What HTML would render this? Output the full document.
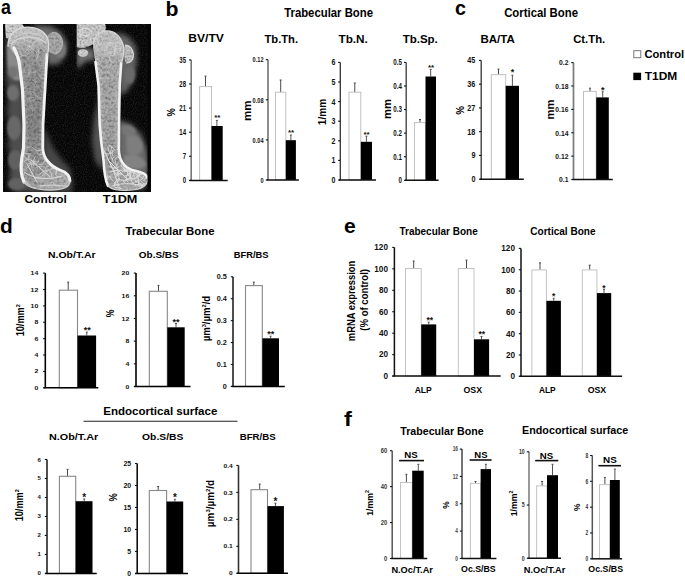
<!DOCTYPE html>
<html><head><meta charset="utf-8"><style>
html,body{margin:0;padding:0;background:#fff;}
body{width:685px;height:577px;overflow:hidden;}
svg{display:block;font-family:"Liberation Sans",sans-serif;}
</style></head><body>
<svg width="685" height="577" viewBox="0 0 685 577">
<rect width="685" height="577" fill="#fff"/>

<defs>
<filter id="b1" x="-20%" y="-20%" width="140%" height="140%"><feGaussianBlur stdDeviation="1.2"/></filter>
<filter id="b2" x="-30%" y="-30%" width="160%" height="160%"><feGaussianBlur stdDeviation="2.4"/></filter>
<filter id="b3" x="-30%" y="-30%" width="160%" height="160%"><feGaussianBlur stdDeviation="3.5"/></filter>
<filter id="b05" x="-20%" y="-20%" width="140%" height="140%"><feGaussianBlur stdDeviation="0.45"/></filter>
<filter id="soft" x="0" y="0" width="100%" height="100%"><feGaussianBlur stdDeviation="0.35"/></filter>
<filter id="noise" x="0" y="0" width="100%" height="100%">
 <feTurbulence type="fractalNoise" baseFrequency="0.5" numOctaves="3" seed="7" result="n"/>
 <feColorMatrix in="n" type="matrix" values="1.9 0 0 0 -0.38  1.9 0 0 0 -0.38  1.9 0 0 0 -0.38  0 0 0 0 1"/>
 <feGaussianBlur stdDeviation="0.3"/>
 <feComposite in2="SourceGraphic" operator="in"/>
</filter>
<filter id="noised" x="0" y="0" width="100%" height="100%">
 <feTurbulence type="fractalNoise" baseFrequency="0.35" numOctaves="2" seed="11" result="n"/>
 <feColorMatrix in="n" type="matrix" values="2.5 0 0 0 -0.75  2.5 0 0 0 -0.75  2.5 0 0 0 -0.75  0 0 0 0 1"/>
 <feComposite in2="SourceGraphic" operator="in"/>
</filter>
<filter id="bgn" x="0" y="0" width="100%" height="100%">
 <feTurbulence type="fractalNoise" baseFrequency="0.9" numOctaves="1" seed="3" result="n"/>
 <feColorMatrix in="n" type="matrix" values="0 0 0 0 1  0 0 0 0 1  0 0 0 0 1  0.3 0 0 0 -0.13"/>
</filter>
<linearGradient id="gc" x1="0" y1="0" x2="0" y2="1">
 <stop offset="0" stop-color="#929292"/><stop offset="0.15" stop-color="#828282"/><stop offset="0.35" stop-color="#6a6a6a"/>
 <stop offset="0.6" stop-color="#606060"/><stop offset="0.8" stop-color="#707070"/><stop offset="1" stop-color="#808080"/>
</linearGradient>
<linearGradient id="gt" x1="0" y1="0" x2="0" y2="1">
 <stop offset="0" stop-color="#9c9c9c"/><stop offset="0.2" stop-color="#959595"/><stop offset="0.45" stop-color="#8e8e8e"/>
 <stop offset="0.68" stop-color="#8a8a8a"/><stop offset="0.8" stop-color="#6e6e6e"/><stop offset="1" stop-color="#7a7a7a"/>
</linearGradient>
<clipPath id="xclip"><rect x="3" y="24" width="148" height="168"/></clipPath>
<clipPath id="lclip"><rect x="3" y="24" width="73.5" height="168"/></clipPath>
<clipPath id="rclip"><rect x="76.5" y="24" width="74.5" height="168"/></clipPath>
<clipPath id="cbone"><path d="M8,46 C8,36 14,29 24,27.5 C34,26 44,30 47.5,38 C49.5,44 48.5,50 47.5,55 L45.5,90 L43.5,125 L43.3,148 C43.5,158 50,166 60,170 C66,172 70,175 70,181 C70,187 62,190 50,190 C38,190 28,188 24,182 C21,176 20.5,166 22,157 L23.5,148 L24,125 L22.5,90 L19.5,65 C17,56 12,52 8,46 Z"/></clipPath>
<clipPath id="tbone"><path d="M93,44 C94,37 99,32 106,31 C114,30 121,36 123.5,46 C124.5,52 123,58 121.5,63 L120,85 L119.3,125 L119.2,150 C119.5,160 124,167 132,170 C140,172 146,173 147.5,178 C148.5,185 142,189 133,190 C122,191 112,190 108,186 C105,180 104,170 103.5,160 L101,140 L99.7,125 L98.5,85 L96,66 C95,58 93,50 93,44 Z"/></clipPath>
</defs>
<g clip-path="url(#xclip)">
<rect x="3" y="24" width="148" height="168" fill="#050505"/>
<g filter="url(#soft)">
<rect x="3" y="24" width="148" height="168" filter="url(#bgn)"/>
<g clip-path="url(#lclip)">
<!-- control soft tissue -->
<g filter="url(#b2)">
 <path d="M6,36 L20,34 L22,70 L24,110 L25,150 L24,186 L10,190 L9,176 L11,160 L8,145 L10,128 L7,110 L9,95 L6,80 Z" fill="#4e4e4e"/>
 <path d="M16,150 L26,150 L30,175 L40,186 L70,186 L73,192 L14,192 Z" fill="#505050"/>
 <path d="M32,25 L50,26 L61,32 L67,43 L66,55 L59,64 L48,65 L44,40 Z" fill="#6a6a6a"/>
 <path d="M44,126 L52,146 L62,160 L70,168 L73,186 L60,191 L48,182 L43,160 Z" fill="#464646"/>
</g>
<g filter="url(#b1)">
 <path d="M7,44 C12,50 17,56 19,62 L20,80 C15,82 9,78 8,70 C7,62 7,52 7,44 Z" fill="#8a8a8a"/>
 <ellipse cx="13" cy="72" rx="5.5" ry="6" fill="#747474"/>
 <ellipse cx="13" cy="93" rx="6" ry="8" fill="#6e6e6e"/>
 <ellipse cx="14" cy="128" rx="7" ry="12" fill="#686868"/>
 <ellipse cx="15" cy="160" rx="7" ry="10" fill="#606060"/>
 <ellipse cx="17" cy="184" rx="9" ry="6" fill="#626262"/>
 <ellipse cx="60" cy="50" rx="6" ry="8" fill="#767676"/>
</g>
<path d="M5,24 L22,24 L25,28 L21,35 L12,39 L6,38 Z" fill="#c2c2c2" filter="url(#b05)"/>
<path d="M5,24 L22,24 L25,28 L21,35 L12,39 L6,38 Z" filter="url(#noise)" opacity="0.4"/>
<ellipse cx="54" cy="43" rx="8.5" ry="11" fill="#8e8e8e" filter="url(#b05)"/>
<ellipse cx="54" cy="43" rx="8.5" ry="11" filter="url(#noise)" opacity="0.3"/>
<path d="M52,32.5 C58,32 62.5,37 62.5,43 C62.5,49 59,53.5 54,54" fill="none" stroke="#b4b4b4" stroke-width="1.1" filter="url(#b05)"/>
<!-- control bone -->
<g clip-path="url(#cbone)">
 <rect x="5" y="24" width="70" height="168" fill="url(#gc)"/>
 <rect x="5" y="24" width="70" height="168" filter="url(#noise)" opacity="0.22"/>
 <rect x="5" y="24" width="70" height="168" filter="url(#noised)" opacity="0.14"/>
 <path d="M8,46 C8,36 14,29 24,27.5 C34,26 44,30 47.5,38 C49.5,44 48.5,50 47.5,55 L45.5,90 L43.5,125 L43.3,148 C43.5,158 50,166 60,170 C66,172 70,175 70,181 C70,187 62,190 50,190 C38,190 28,188 24,182 C21,176 20.5,166 22,157 L23.5,148 L24,125 L22.5,90 L19.5,65 C17,56 12,52 8,46 Z" fill="none" stroke="#fff" stroke-width="8" opacity="0.14" filter="url(#b1)"/>
 <ellipse cx="28" cy="38" rx="20" ry="12" fill="#fff" opacity="0.22" filter="url(#b2)"/>
 <ellipse cx="52" cy="178" rx="18" ry="9" fill="#fff" opacity="0.18" filter="url(#b2)"/>
 <g filter="url(#b05)" opacity="0.75"><path d="M27.6,183.9 L23.9,180.5 L21.1,178.3 L17.2,178.4 M64.8,165.6 L63.5,162.8 L64.8,158.6 M26.0,162.7 L31.6,164.1 L34.5,163.9 L36.5,163.4 L38.9,160.5 M45.3,159.3 L42.5,164.4 L38.8,164.6 M65.9,186.9 L64.6,192.2 L66.7,194.8 L67.3,199.6 L64.4,201.8 M61.7,176.8 L57.7,177.2 L55.6,174.3 L56.6,170.5 L59.2,168.0 M53.6,164.7 L55.9,164.3 L58.3,164.8 L62.7,161.9 L65.8,158.1 M44.0,162.3 L46.7,160.0 L46.9,156.0 L51.6,154.1 L56.9,152.7 M32.4,170.6 L36.9,167.1 L41.1,166.0 L44.5,166.9 L47.0,172.2 M67.0,170.5 L72.8,171.1 L76.2,171.3 L81.9,172.4 L87.1,172.3 M41.3,150.1 L37.0,150.7 L33.2,148.3 L31.1,146.5 L27.0,147.7 M62.7,187.2 L66.4,183.2 L69.4,179.2 L69.7,176.1 L71.7,174.2 M35.2,156.7 L33.4,160.9 L33.8,165.7 M45.3,154.6 L44.8,157.3 L48.6,161.4 L50.4,163.5 M50.7,182.7 L52.8,182.4 L54.9,185.6 M45.8,167.1 L49.6,165.7 L52.1,161.8 L53.4,157.7 L52.9,153.3 M23.9,161.9 L28.2,158.6 L30.7,153.4 M57.4,166.6 L56.6,172.0 L55.5,174.6 M65.1,168.4 L66.7,166.9 L66.8,164.5 L68.2,159.1 L69.9,155.5 M67.0,165.6 L61.9,167.7 L60.1,166.6 M30.8,163.1 L33.4,161.8 L38.7,161.6 M66.7,163.8 L70.7,160.7 L72.6,159.4 L72.3,156.9 L69.0,154.4 M34.1,163.3 L30.9,164.2 L27.0,168.1 L22.0,171.0 M64.5,155.4 L60.9,155.8 L55.4,158.1 M28.2,155.0 L28.8,158.5 L28.8,161.4 L31.4,163.0 L31.7,167.2 M66.3,168.3 L64.7,169.5 L62.3,170.0 M26.6,185.4 L29.2,188.9 L33.0,189.4 M54.4,156.4 L57.9,156.4 L60.2,161.5 L62.6,163.3 M44.4,154.0 L39.3,154.9 L36.0,151.3 M36.7,165.7 L31.2,163.6 L31.0,161.2 M31.5,174.7 L34.4,177.4 L36.9,178.5 L39.5,177.7 L43.8,174.6 M25.4,180.1 L28.9,184.7 L31.5,186.6 L34.7,187.4 L37.3,192.3 M35.8,163.4 L34.6,161.4 L29.7,159.6 L26.6,159.3 L23.9,155.1 M22.1,150.4 L22.0,144.9 L19.0,142.3 L18.7,140.0 M67.5,156.9 L70.2,155.0 L70.1,150.9 M66.0,161.7 L70.2,159.1 L75.4,159.7 M51.6,176.9 L51.4,174.1 L49.2,170.5 L43.7,170.9 L39.7,174.1 M54.4,167.9 L49.3,169.7 L46.1,171.2 L44.1,173.5 M22.2,175.9 L22.7,180.6 L22.3,185.0 L26.5,189.2 L30.6,190.2 M29.4,153.6 L25.4,153.6 L21.9,152.4" fill="none" stroke="#dcdcdc" stroke-width="0.8" stroke-linecap="round" stroke-linejoin="round"/><path d="M45.4,53.6 L47.9,53.6 L51.2,56.8 M19.3,33.7 L22.0,31.9 L24.8,28.7 L29.4,30.4 L32.4,31.8 M19.9,29.0 L21.6,33.4 L24.0,37.4 L26.5,37.9 M18.5,32.8 L20.7,37.3 L20.8,39.8 L17.4,42.5 L12.7,43.0 M38.2,49.3 L38.9,53.5 L37.7,56.7 L36.3,59.9 M44.2,41.5 L46.9,39.4 L49.8,40.3 L52.2,43.1 M26.9,45.8 L31.1,47.7 L34.4,50.5 L36.7,52.3 L37.5,56.7 M30.8,41.7 L28.3,41.0 L23.7,39.5 L21.9,38.3 M40.4,47.6 L42.3,48.9 L43.8,50.5 M31.9,46.4 L32.4,43.7 L36.3,40.9 L35.8,36.2 L36.9,34.3 M23.3,34.7 L24.0,36.7 L23.6,38.7 M19.5,50.0 L20.5,51.7 L21.8,55.9 M19.2,54.2 L23.2,55.6 L26.6,55.0 L29.5,52.8 L31.5,52.0 M19.8,38.9 L17.7,37.1 L16.3,34.5 M13.8,40.1 L17.0,37.2 L19.1,35.1 M42.4,37.2 L40.6,40.9 L36.6,41.0 L34.6,42.4 M16.3,40.2 L12.3,43.2 L11.4,46.4 L12.6,50.0 L12.6,54.4 M36.3,34.9 L33.8,34.6 L31.4,35.0 L29.1,35.3 L28.2,37.1 M37.8,30.8 L40.7,31.0 L43.1,32.1 L44.0,36.9 L42.9,40.0 M28.9,43.7 L29.7,47.3 L26.9,50.2 L25.5,51.7 M45.5,31.2 L42.6,30.2 L39.9,33.2 L40.5,36.1 L38.2,39.4 M10.6,40.2 L6.9,43.0 L5.0,43.8 L4.8,46.7 M36.8,33.9 L33.6,33.6 L29.4,33.5 M24.6,31.3 L26.1,33.9 L28.0,35.7 M13.9,44.7 L10.6,43.5 L7.2,43.5 M39.6,35.3 L36.3,32.6 L33.3,30.9 L31.4,28.4 M15.8,44.1 L12.3,40.9 L9.6,37.3 L6.6,37.4 L5.6,35.2 M25.4,29.8 L24.9,33.7 L26.8,35.8 L30.8,36.5 L33.5,38.4 M29.4,31.0 L26.7,33.3 L24.0,33.9 L21.5,31.6 M36.0,38.9 L39.0,40.6 L41.2,44.4 L44.2,47.3 L46.1,48.4" fill="none" stroke="#d0d0d0" stroke-width="0.8" stroke-linecap="round" stroke-linejoin="round"/><path d="M27.5,84.9 L26.0,86.8 L23.6,88.4 L21.9,89.9 L21.5,92.5 M34.4,85.2 L34.0,86.9 L32.0,87.4 M22.3,97.7 L25.0,97.5 L26.5,98.7 L28.3,101.0 L30.4,102.6 M31.8,95.0 L31.5,93.4 L29.9,92.5 M44.2,79.0 L41.9,77.4 L40.3,75.8 L38.8,74.8 M29.7,105.4 L30.3,107.8 L32.7,109.3 L32.4,112.1 M35.1,94.3 L36.3,95.4 L38.1,97.1 L39.7,98.3 L42.4,97.3 M22.5,78.5 L22.6,80.9 L24.9,82.0 M29.6,103.4 L30.7,102.4 L30.1,100.8 L29.3,98.0 L30.8,96.7 M28.1,92.9 L30.5,91.3 L32.4,92.1 L34.6,92.7 M36.8,87.8 L36.6,85.0 L35.2,83.0 L35.0,80.2 L34.5,78.3 M29.0,73.6 L28.6,71.6 L28.6,69.9 L29.2,68.0 L29.2,65.2 M36.0,70.3 L34.9,72.6 L33.0,72.6 L30.7,72.9 L28.9,74.0 M29.2,75.3 L28.7,73.7 L30.1,71.1 L31.4,70.0 M33.5,91.0 L34.8,92.7 L35.0,94.3 L36.1,96.0 M41.2,79.1 L40.3,76.7 L38.3,75.4 M28.2,98.3 L30.9,97.7 L33.7,97.5 M29.8,100.5 L31.5,100.8 L34.0,99.9 L35.3,98.4 L36.3,96.5 M31.4,105.6 L33.1,107.8 L33.8,110.0 M34.9,109.2 L35.9,106.7 L37.5,105.0 M28.6,73.8 L26.7,76.0 L27.1,77.8 M22.8,99.2 L21.3,96.7 L20.8,95.3 M39.1,64.5 L40.9,66.0 L43.6,65.0 L44.1,63.4 L46.4,63.1 M40.7,58.4 L40.9,61.1 L43.0,62.8 M43.2,99.3 L44.2,97.2 L44.7,94.6" fill="none" stroke="#bcbcbc" stroke-width="0.7" stroke-linecap="round" stroke-linejoin="round"/></g>
</g>
<g fill="none" stroke="#f2f2f2" stroke-linecap="round" filter="url(#b05)">
 <path d="M14,48 C17,54 19,60 19.5,65 L22.5,90 L24,125 L23.5,148 L22,157 C20.5,166 21,176 24,182" stroke-width="3.2"/>
 <path d="M47,55 L45,90 L43,125 L42.8,148 C43,158 50,166 60,170 C66,172 70,175 70,181" stroke-width="2.8"/>
 <path d="M8,46 C8,36 14,29 24,27.5 C34,26 44,30 47.5,38 C49.5,44 48.5,50 47.5,55" stroke-width="1.4" stroke="#dadada"/>
 <path d="M11,44 C18,36 36,34 46,43" stroke-width="1.3" stroke="#d6d6d6"/>
 <path d="M14,38 C22,32 34,31 42,36" stroke-width="1" stroke="#cfcfcf"/>
 <path d="M27,164 L37,182 M31,160 L50,177 M24,172 C36,180 48,180 62,176 M40,186 C50,184 58,186 66,186" stroke-width="1" stroke="#d8d8d8"/>
 <path d="M24,182 C28,188 38,190 50,190 C62,190 70,187 70,181" stroke-width="1.3" stroke="#cfcfcf"/>
</g>
</g>
<g clip-path="url(#rclip)">
<!-- T1DM soft tissue -->
<g filter="url(#b2)">
 <path d="M76.5,48 L92,48 C95,52 96,56 95,61 C90,59 84,61 80,67 L76.5,68 Z" fill="#6e6e6e"/>
 <path d="M116,32 L128,36 L136,46 L137,62 L134,78 L128,90 L120,96 Z" fill="#646464"/>
 <path d="M118,120 L131,124 L141,134 L147,150 L149,166 L148,182 L142,190 L128,186 L120,170 L118,150 Z" fill="#6a6a6a"/>
 <path d="M99,96 L94,118 L92,140 L95,160 L103,172 L104,140 L101,110 Z" fill="#525252"/>
</g>
<g filter="url(#b1)">
 <path d="M126,136 C132,132 142,137 143,146 C143,155 134,157 127,153 Z" fill="#7e7e7e"/>
 <path d="M124,156 C132,152 144,156 146,165 C142,170 130,170 124,165 Z" fill="#828282"/>
 <path d="M122,126 C128,124 135,126 136,132 C133,137 126,137 122,133 Z" fill="#767676"/>
 <ellipse cx="130" cy="75" rx="5" ry="9" fill="#6a6a6a"/>
</g>
<path d="M76.5,24 L105,24 C107,28 105,33 101,37 C97,42 91,46 85,47.5 C81,48 78,47.5 76.5,47 Z" fill="#bababa" filter="url(#b05)"/>
<path d="M76.5,24 L105,24 C107,28 105,33 101,37 C97,42 91,46 85,47.5 C81,48 78,47.5 76.5,47 Z" filter="url(#noise)" opacity="0.4"/>
<path d="M80,30 C84,27 90,28 92,32 C90,36 84,37 80,34 Z" fill="none" stroke="#e0e0e0" stroke-width="1" filter="url(#b05)"/>
<ellipse cx="83" cy="53" rx="5.2" ry="3.8" fill="#c4c4c4" filter="url(#b05)"/>
<ellipse cx="83" cy="53" rx="5.2" ry="3.8" filter="url(#noise)" opacity="0.3"/>
<path d="M125,45 C130,45 133.5,50 133.5,55 C133.5,60 130,63.5 126,63 C124,59 124,50 125,45 Z" fill="#a8a8a8" filter="url(#b05)"/>
<path d="M125,45 C130,45 133.5,50 133.5,55 C133.5,60 130,63.5 126,63 C124,59 124,50 125,45 Z" filter="url(#noise)" opacity="0.4"/>
<path d="M125,45 C130,45 133.5,50 133.5,55 C133.5,60 130,63.5 126,63" fill="none" stroke="#d8d8d8" stroke-width="1.1" filter="url(#b05)"/>
<!-- T1DM bone -->
<g clip-path="url(#tbone)">
 <rect x="85" y="24" width="66" height="168" fill="url(#gt)"/>
 <rect x="85" y="24" width="66" height="168" filter="url(#noise)" opacity="0.22"/>
 <rect x="85" y="24" width="66" height="168" filter="url(#noised)" opacity="0.14"/>
 <path d="M93,44 C94,37 99,32 106,31 C114,30 121,36 123.5,46 C124.5,52 123,58 121.5,63 L120,85 L119.3,125 L119.2,150 C119.5,160 124,167 132,170 C140,172 146,173 147.5,178 C148.5,185 142,189 133,190 C122,191 112,190 108,186 C105,180 104,170 103.5,160 L101,140 L99.7,125 L98.5,85 L96,66 C95,58 93,50 93,44 Z" fill="none" stroke="#fff" stroke-width="8" opacity="0.14" filter="url(#b1)"/>
 <ellipse cx="108" cy="44" rx="15" ry="13" fill="#fff" opacity="0.22" filter="url(#b2)"/>
 <ellipse cx="126" cy="176" rx="20" ry="12" fill="#fff" opacity="0.14" filter="url(#b2)"/>
 <g filter="url(#b05)" opacity="0.8"><path d="M112.6,150.6 L112.8,152.7 L112.6,155.6 M146.6,148.6 L144.2,149.6 L143.7,152.2 L139.4,153.7 M138.3,182.0 L141.8,185.0 L140.7,189.4 L141.0,194.0 M117.2,163.5 L117.3,165.7 L113.5,168.3 M126.6,159.5 L129.6,159.3 L131.8,160.6 L134.4,161.7 L137.0,162.4 M113.7,181.9 L115.6,183.9 L117.8,186.6 L122.1,189.1 M110.8,164.6 L111.9,166.9 L114.0,170.0 L114.7,172.5 L117.6,176.0 M133.9,158.5 L129.4,160.3 L128.1,161.9 M118.1,149.7 L122.7,151.3 L124.6,149.3 L128.8,150.5 M120.5,188.4 L118.0,187.8 L115.6,187.5 M119.2,189.3 L118.6,192.6 L119.2,197.0 M146.9,171.7 L144.7,173.1 L144.8,175.3 M109.6,176.5 L111.5,179.7 L113.2,180.9 M139.6,159.2 L141.0,162.3 L143.8,164.0 L146.5,162.2 L148.2,157.8 M139.4,168.4 L142.7,167.1 L145.8,167.9 L148.7,167.0 M142.1,160.2 L146.2,162.4 L149.0,165.8 L149.4,169.2 L151.8,170.4 M141.3,186.5 L143.3,183.7 L146.2,183.7 L148.8,183.2 M138.1,182.0 L135.8,181.9 L134.1,177.3 L134.2,175.2 M142.5,151.7 L146.1,154.6 L147.6,157.6 L149.2,160.4 L152.4,163.5 M111.5,153.1 L107.2,154.1 L103.0,152.1 L99.1,149.6 M111.1,176.2 L107.9,177.6 L106.0,178.3 L105.6,182.0 L105.2,186.6 M129.4,152.2 L126.5,151.9 L124.3,152.5 L122.1,150.0 L117.2,149.3 M119.5,180.1 L118.8,177.9 L118.7,173.3 L118.7,170.0 M140.6,180.9 L144.1,184.2 L145.9,185.7 M127.1,162.7 L130.5,163.4 L134.1,162.6 L137.1,165.5 L139.8,164.3 M126.5,167.9 L126.0,164.4 L124.9,161.7 L122.8,160.3 M140.9,146.1 L145.2,148.1 L146.8,151.4 L144.8,154.3 M121.8,173.8 L118.7,173.9 L116.5,173.0 L114.6,174.5 M138.4,154.0 L139.4,149.7 L142.2,146.0 L140.8,142.3 M142.7,160.8 L142.1,162.8 L145.8,166.0 M139.3,182.0 L137.7,178.7 L136.0,175.4 M144.2,180.2 L146.1,177.3 L148.8,177.2 M137.4,175.7 L138.9,172.2 L143.0,171.4 L145.1,169.8 L147.0,166.4 M146.8,186.5 L144.3,185.0 L140.7,183.8 L136.2,184.9 M122.6,171.3 L126.5,171.2 L128.0,169.6 L132.7,171.0 M143.4,173.2 L140.5,175.0 L137.1,175.8 M129.2,149.0 L131.9,145.0 L131.1,140.7 M132.6,170.6 L133.1,167.9 L134.9,166.0 L137.0,166.6 M114.2,185.5 L115.3,181.6 L118.2,178.9 L122.5,180.4 L124.9,183.2 M133.2,178.6 L130.6,178.3 L127.3,179.5 L125.3,181.1 L121.9,180.1 M126.2,159.6 L124.1,162.2 L126.2,166.3 M102.9,189.2 L106.7,189.3 L107.8,186.9 M102.4,187.0 L101.7,182.9 L105.2,179.7 L107.6,175.8 M139.5,172.4 L139.3,175.5 L135.3,177.5 L132.0,180.2 L129.4,179.9 M128.1,182.1 L126.1,179.8 L126.6,175.1 L130.6,172.8 M131.6,177.4 L127.6,174.7 L127.8,172.2 L124.7,170.4 L123.7,166.4 M103.8,176.4 L99.7,176.6 L96.9,180.7 L93.4,181.3 L92.5,185.8 M130.1,174.0 L130.7,175.9 L130.3,178.5 L132.1,182.3 L135.7,185.7 M140.6,174.4 L137.3,178.1 L132.8,179.0 M115.4,177.1 L117.4,174.9 L117.6,171.4 L117.1,166.6 L114.8,162.4 M144.7,187.7 L143.9,190.5 L145.9,192.9 L147.6,196.6 L147.9,200.4 M116.1,188.1 L114.2,186.2 L115.3,182.3 L118.5,181.1 L119.3,178.2 M122.5,190.6 L123.6,192.6 L122.9,195.5 M141.1,172.2 L145.6,171.9 L148.4,168.8 L146.7,164.8 L144.3,163.8 M103.6,160.6 L98.8,161.8 L96.7,165.6 L97.9,167.4 L102.6,168.3 M143.8,176.3 L142.2,179.4 L137.9,180.5 L134.6,182.4 L132.0,183.8 M121.3,164.3 L124.0,162.7 L125.6,160.0 M140.9,188.3 L138.0,185.3 L138.7,182.9 L138.3,177.9 M111.6,147.2 L110.7,151.9 L110.3,154.0 L111.5,158.0 L112.7,160.1 M118.9,166.9 L115.9,168.3 L111.2,167.5 L109.1,165.9 M116.9,172.9 L121.6,174.3 L124.0,175.2 M129.7,173.0 L128.0,170.3 L124.5,169.0 L122.6,167.5 L120.9,165.4 M135.3,170.3 L133.7,174.1 L131.4,178.3 L128.6,178.4 L125.3,179.9 M126.5,162.5 L129.4,159.0 L128.1,155.3 M110.8,153.2 L109.0,152.0 L107.9,147.5 M105.6,188.4 L104.2,186.3 L103.2,183.6 L104.8,181.2 L108.3,178.7 M125.8,179.9 L129.1,179.5 L130.0,176.1 M140.4,184.0 L143.2,187.4 L143.2,189.5 L145.9,192.5 M110.8,153.7 L114.4,150.2 L113.6,148.4 L110.9,146.1 L108.9,145.0 M130.8,176.0 L130.2,174.0 L127.8,173.4 L126.8,168.8 L129.5,166.6 M125.1,175.9 L129.0,175.6 L131.2,171.2 L129.6,167.2 L128.8,164.1 M115.7,162.2 L114.8,158.9 L117.4,156.8 L121.8,159.1 L123.5,160.4 M127.1,189.5 L125.1,193.2 L121.7,193.0 L119.0,194.1 L117.0,196.2 M116.2,155.4 L112.6,158.2 L112.3,160.5 L114.7,164.5 M130.7,154.7 L130.5,156.7 L128.9,157.9 L125.3,158.8" fill="none" stroke="#ececec" stroke-width="0.85" stroke-linecap="round" stroke-linejoin="round"/><path d="M112.3,56.0 L114.5,53.1 L118.8,52.6 L120.4,51.2 L120.5,48.1 M119.9,43.3 L122.2,42.0 L124.5,37.9 M116.7,35.6 L118.6,32.8 L117.1,28.1 M93.2,57.1 L95.5,58.8 L94.8,62.4 M114.0,37.2 L116.2,32.8 L116.6,30.8 L116.6,26.0 L114.9,23.5 M118.3,50.5 L115.5,49.9 L113.6,47.0 L110.6,45.3 L109.5,43.4 M123.2,30.8 L119.2,29.1 L115.5,28.7 L114.5,30.6 M98.6,63.4 L95.5,67.1 L94.5,70.0 M109.3,57.1 L109.9,60.2 L112.1,62.7 L111.0,65.1 L109.6,67.8 M97.6,39.6 L95.6,37.5 L93.4,37.4 M97.6,54.1 L99.6,55.2 L103.1,58.5 M94.0,55.9 L92.5,58.8 L95.1,62.8 L98.5,62.3 M119.0,34.6 L119.8,30.3 L117.6,27.9 M97.6,59.6 L93.9,60.6 L92.2,63.7 L88.1,63.6 M102.8,39.6 L100.9,43.6 L99.6,45.8 M122.1,60.4 L125.7,62.8 L126.0,65.8 L123.6,69.5 M114.5,53.2 L115.3,49.3 L117.7,47.8 L121.1,50.1 M122.7,41.9 L124.8,45.7 L127.0,47.4 M102.0,47.5 L99.0,44.9 L97.8,40.6 L95.1,36.9 M120.0,54.1 L123.5,53.7 L126.3,50.2 L129.7,50.6 M114.4,55.2 L115.2,50.4 L116.1,45.7 M102.4,49.4 L104.4,48.7 L105.8,45.7 L107.7,43.9 M114.3,52.1 L114.7,54.5 L113.0,56.2 L109.8,55.1 M110.0,44.5 L107.0,46.9 L105.8,51.4 L108.3,53.3 L111.5,53.7 M96.6,59.1 L94.3,60.9 L92.9,64.2 M122.5,40.3 L120.6,44.3 L118.4,46.5 M97.4,50.9 L97.2,47.0 L95.4,42.7 M93.0,33.8 L90.4,32.3 L89.8,28.7 L88.3,24.0 L87.1,20.8 M115.0,43.4 L117.1,41.7 L120.2,43.3 M105.9,41.2 L107.3,43.1 L111.2,42.3 L112.9,44.4 M94.2,34.8 L91.9,36.4 L88.0,34.5 L85.2,34.9 M97.8,64.6 L94.3,65.0 L90.9,61.8 L91.2,59.8 L89.2,57.8 M114.9,51.5 L114.3,48.5 L115.7,45.0 M94.1,38.8 L91.2,36.6 L87.5,38.8 M106.3,50.1 L106.7,45.6 L109.4,43.5 L113.5,42.6 L116.0,44.9" fill="none" stroke="#d4d4d4" stroke-width="0.8" stroke-linecap="round" stroke-linejoin="round"/><path d="M115.5,102.0 L114.8,103.6 L113.2,106.1 L111.4,106.9 M98.5,87.0 L97.1,88.8 L97.8,91.1 L97.4,93.6 M112.6,92.5 L114.2,92.7 L115.9,94.8 L117.1,95.9 M102.3,93.6 L101.5,95.2 L100.0,96.5 M118.5,105.9 L117.5,103.3 L116.6,100.6 L116.5,98.7 L116.2,96.7 M100.6,87.5 L98.2,87.0 L96.4,87.4 M108.6,71.2 L109.0,73.0 L111.1,74.3 L113.0,76.0 L114.1,77.7 M109.6,78.0 L107.5,77.9 L105.8,76.6 L106.2,74.8 M119.5,105.2 L117.9,102.9 L118.1,100.7 L118.1,98.1 M107.0,68.9 L106.6,66.3 L107.9,65.5 L109.6,64.5 M115.6,73.4 L114.7,71.8 L112.8,69.7 L111.9,68.0 M108.4,86.5 L110.0,88.4 L111.4,89.9 L114.3,89.9 M111.6,96.3 L111.9,98.5 L110.4,100.9 L110.3,102.4 L110.4,104.0 M98.7,99.8 L101.4,101.0 L103.6,101.9 L103.9,103.6 L104.9,104.7 M115.7,101.0 L114.1,100.9 L112.4,101.3 M111.8,92.3 L112.4,94.8 L114.6,95.3 L115.8,96.4 L117.9,95.5 M111.6,106.6 L110.4,109.2 L108.2,109.6 L105.6,108.9 L103.3,110.6 M118.0,84.8 L118.7,82.7 L120.0,80.3 L120.1,78.3 M105.9,66.5 L103.4,68.0 L101.1,69.8 L101.5,71.4 M116.0,93.7 L114.6,92.3 L111.8,93.2 M114.3,98.8 L115.2,100.1 L115.4,101.8 L115.3,104.0 M108.9,68.4 L108.8,70.2 L107.9,71.7 L105.9,72.7 L103.4,71.7" fill="none" stroke="#bcbcbc" stroke-width="0.7" stroke-linecap="round" stroke-linejoin="round"/></g>
</g>
<g fill="none" stroke="#f2f2f2" stroke-linecap="round" filter="url(#b05)">
 <path d="M95.5,62 L98.5,85 L99.7,125 L101,140 L103.5,160 C104,170 105,180 108,186" stroke-width="2.6"/>
 <path d="M121.2,63 L119.7,85 L119,125 L118.9,150 C119.2,160 124,167 132,170 C140,172 146,173 147.5,178" stroke-width="2.6"/>
 <path d="M93,44 C94,37 99,32 106,31 C114,30 121,36 123.5,46 C124.5,52 123,58 121.5,63" stroke-width="1.3" stroke="#d6d6d6"/>
 <path d="M104,150 L113,170 L119,186 M108,160 L128,180 M110,172 C122,168 132,170 142,178 M112,186 C124,182 134,184 144,186" stroke-width="1" stroke="#e0e0e0"/>
 <path d="M108,186 C112,190 122,191 133,190 C142,189 148.5,185 147.5,178" stroke-width="1.2" stroke="#d0d0d0"/>
</g>
</g>
</g>
<rect x="147.5" y="24" width="3.5" height="168" fill="#060606"/>
</g>

<text transform="translate(1.5,14.4) scale(0.8908,1)" x="-0.59" y="0" font-size="20" font-weight="bold" fill="#000">a</text>
<text transform="translate(166.9,15.5) scale(1.0617,1)" x="-1.32" y="0" font-size="20" font-weight="bold" fill="#000">b</text>
<text transform="translate(455.8,14.8) scale(0.9840,1)" x="-0.78" y="0" font-size="20" font-weight="bold" fill="#000">c</text>
<text transform="translate(0.9,233) scale(1.0419,1)" x="-0.82" y="0" font-size="20" font-weight="bold" fill="#000">d</text>
<text transform="translate(344.7,232.5) scale(1.0561,1)" x="-0.78" y="0" font-size="20" font-weight="bold" fill="#000">e</text>
<text transform="translate(344.4,425.8) scale(1.1797,1)" x="-0.34" y="0" font-size="20" font-weight="bold" fill="#000">f</text>
<text transform="translate(25,202.7) scale(1.0291,1)" x="-0.48" y="0" font-size="11.6" font-weight="bold" fill="#000">Control</text>
<text transform="translate(103,202.5) scale(1.0955,1)" x="-0.13" y="0" font-size="11.6" font-weight="bold" fill="#000">T1DM</text>
<text transform="translate(284.3,16.8) scale(0.9309,1)" x="-0.14" y="0" font-size="12.2" font-weight="bold" fill="#000">Trabecular Bone</text>
<text transform="translate(189.1,42.4) scale(1.0242,1)" x="-0.79" y="0" font-size="11.8" font-weight="bold" fill="#000">BV/TV</text>
<text transform="translate(264.6,42.6) scale(0.9494,1)" x="-0.13" y="0" font-size="11.8" font-weight="bold" fill="#000">Tb.Th.</text>
<text transform="translate(338.6,42.6) scale(0.9983,1)" x="-0.13" y="0" font-size="11.8" font-weight="bold" fill="#000">Tb.N.</text>
<text transform="translate(402.8,42.6) scale(0.9742,1)" x="-0.13" y="0" font-size="11.8" font-weight="bold" fill="#000">Tb.Sp.</text>
<text transform="translate(504.6,16.6) scale(0.9325,1)" x="-0.5" y="0" font-size="12.2" font-weight="bold" fill="#000">Cortical Bone</text>
<text transform="translate(481.2,42.8) scale(0.9757,1)" x="-0.79" y="0" font-size="11.8" font-weight="bold" fill="#000">BA/TA</text>
<text transform="translate(573.6,42.5) scale(0.9618,1)" x="-0.48" y="0" font-size="11.8" font-weight="bold" fill="#000">Ct.Th.</text>
<rect x="633.8" y="50.7" width="7" height="7" fill="#fff" stroke="#777" stroke-width="1"/>
<rect x="633.3" y="72.7" width="7.8" height="7.4" fill="#000"/>
<text transform="translate(644.9,57.8) scale(0.9640,1)" x="-0.48" y="0" font-size="11.6" font-weight="bold" fill="#000">Control</text>
<text transform="translate(644.9,79.8) scale(1.0303,1)" x="-0.13" y="0" font-size="11.6" font-weight="bold" fill="#000">T1DM</text>
<line x1="205.5" y1="86.6" x2="205.5" y2="76.1" stroke="#4a4a4a" stroke-width="1"/>
<line x1="204.5" y1="76.1" x2="206.5" y2="76.1" stroke="#4a4a4a" stroke-width="1"/>
<rect x="199.6" y="86.6" width="11.9" height="93.8" fill="#fff" stroke="#c0c0c0" stroke-width="1"/>
<line x1="216.9" y1="126" x2="216.9" y2="120.4" stroke="#555" stroke-width="1"/>
<line x1="215.9" y1="120.4" x2="217.9" y2="120.4" stroke="#555" stroke-width="1"/>
<rect x="211.5" y="126" width="11.2" height="54.4" fill="#000"/>
<line x1="191.2" y1="59.9" x2="191.2" y2="180.4" stroke="#777" stroke-width="1.6"/>
<line x1="189.4" y1="180.4" x2="227.7" y2="180.4" stroke="#111" stroke-width="1.5"/>
<line x1="189" y1="180.4" x2="191.2" y2="180.4" stroke="#111" stroke-width="1.1"/>
<line x1="189" y1="156.3" x2="191.2" y2="156.3" stroke="#111" stroke-width="1.1"/>
<line x1="189" y1="132.2" x2="191.2" y2="132.2" stroke="#111" stroke-width="1.1"/>
<line x1="189" y1="108.1" x2="191.2" y2="108.1" stroke="#111" stroke-width="1.1"/>
<line x1="189" y1="84" x2="191.2" y2="84" stroke="#111" stroke-width="1.1"/>
<line x1="189" y1="59.9" x2="191.2" y2="59.9" stroke="#111" stroke-width="1.1"/>
<text x="182.64" y="183.3" font-size="8.4" font-weight="bold" textLength="3.36" lengthAdjust="spacingAndGlyphs" fill="#111">0</text>
<text x="182.64" y="159.2" font-size="8.4" font-weight="bold" textLength="3.36" lengthAdjust="spacingAndGlyphs" fill="#111">7</text>
<text x="179.27" y="135.1" font-size="8.4" font-weight="bold" textLength="6.73" lengthAdjust="spacingAndGlyphs" fill="#111">14</text>
<text x="179.27" y="111" font-size="8.4" font-weight="bold" textLength="6.73" lengthAdjust="spacingAndGlyphs" fill="#111">21</text>
<text x="179.27" y="86.9" font-size="8.4" font-weight="bold" textLength="6.73" lengthAdjust="spacingAndGlyphs" fill="#111">28</text>
<text x="179.27" y="62.8" font-size="8.4" font-weight="bold" textLength="6.73" lengthAdjust="spacingAndGlyphs" fill="#111">35</text>
<text x="217.3" y="120.16" font-size="8" font-weight="bold" text-anchor="middle" fill="#111">**</text>
<line x1="280.7" y1="92.2" x2="280.7" y2="80" stroke="#4a4a4a" stroke-width="1"/>
<line x1="279.7" y1="80" x2="281.7" y2="80" stroke="#4a4a4a" stroke-width="1"/>
<rect x="275.5" y="92.2" width="10.3" height="87.8" fill="#fff" stroke="#c0c0c0" stroke-width="1"/>
<line x1="290.9" y1="140.2" x2="290.9" y2="135" stroke="#555" stroke-width="1"/>
<line x1="289.9" y1="135" x2="291.9" y2="135" stroke="#555" stroke-width="1"/>
<rect x="285.8" y="140.2" width="10.1" height="39.8" fill="#000"/>
<line x1="268" y1="59.7" x2="268" y2="180" stroke="#808080" stroke-width="1.8"/>
<line x1="266.7" y1="180" x2="298.9" y2="180" stroke="#111" stroke-width="1.5"/>
<line x1="265.8" y1="180" x2="268" y2="180" stroke="#111" stroke-width="1.1"/>
<line x1="265.8" y1="139.9" x2="268" y2="139.9" stroke="#111" stroke-width="1.1"/>
<line x1="265.8" y1="99.8" x2="268" y2="99.8" stroke="#111" stroke-width="1.1"/>
<line x1="265.8" y1="59.7" x2="268" y2="59.7" stroke="#111" stroke-width="1.1"/>
<text x="260.39" y="182.76" font-size="8" font-weight="bold" textLength="3.11" lengthAdjust="spacingAndGlyphs" fill="#111">0</text>
<text x="252.6" y="142.66" font-size="8" font-weight="bold" textLength="10.9" lengthAdjust="spacingAndGlyphs" fill="#111">0.04</text>
<text x="252.6" y="102.56" font-size="8" font-weight="bold" textLength="10.9" lengthAdjust="spacingAndGlyphs" fill="#111">0.08</text>
<text x="252.6" y="62.46" font-size="8" font-weight="bold" textLength="10.9" lengthAdjust="spacingAndGlyphs" fill="#111">0.12</text>
<text x="291" y="135.16" font-size="8" font-weight="bold" text-anchor="middle" fill="#111">**</text>
<line x1="354.8" y1="92.2" x2="354.8" y2="83" stroke="#4a4a4a" stroke-width="1"/>
<line x1="353.8" y1="83" x2="355.8" y2="83" stroke="#4a4a4a" stroke-width="1"/>
<rect x="349" y="92.2" width="11.8" height="87.8" fill="#fff" stroke="#c0c0c0" stroke-width="1"/>
<line x1="366.4" y1="141.8" x2="366.4" y2="136.2" stroke="#555" stroke-width="1"/>
<line x1="365.4" y1="136.2" x2="367.4" y2="136.2" stroke="#555" stroke-width="1"/>
<rect x="360.8" y="141.8" width="11.2" height="38.2" fill="#000"/>
<line x1="340.3" y1="62.4" x2="340.3" y2="180" stroke="#333" stroke-width="1.3"/>
<line x1="339" y1="180" x2="376" y2="180" stroke="#111" stroke-width="1.5"/>
<line x1="338.1" y1="180" x2="340.3" y2="180" stroke="#111" stroke-width="1.1"/>
<line x1="338.1" y1="160.4" x2="340.3" y2="160.4" stroke="#111" stroke-width="1.1"/>
<line x1="338.1" y1="140.8" x2="340.3" y2="140.8" stroke="#111" stroke-width="1.1"/>
<line x1="338.1" y1="121.2" x2="340.3" y2="121.2" stroke="#111" stroke-width="1.1"/>
<line x1="338.1" y1="101.6" x2="340.3" y2="101.6" stroke="#111" stroke-width="1.1"/>
<line x1="338.1" y1="82" x2="340.3" y2="82" stroke="#111" stroke-width="1.1"/>
<line x1="338.1" y1="62.4" x2="340.3" y2="62.4" stroke="#111" stroke-width="1.1"/>
<text x="331.48" y="182.93" font-size="8.5" font-weight="bold" textLength="3.92" lengthAdjust="spacingAndGlyphs" fill="#111">0</text>
<text x="331.48" y="163.33" font-size="8.5" font-weight="bold" textLength="3.92" lengthAdjust="spacingAndGlyphs" fill="#111">1</text>
<text x="331.48" y="143.73" font-size="8.5" font-weight="bold" textLength="3.92" lengthAdjust="spacingAndGlyphs" fill="#111">2</text>
<text x="331.48" y="124.13" font-size="8.5" font-weight="bold" textLength="3.92" lengthAdjust="spacingAndGlyphs" fill="#111">3</text>
<text x="331.48" y="104.53" font-size="8.5" font-weight="bold" textLength="3.92" lengthAdjust="spacingAndGlyphs" fill="#111">4</text>
<text x="331.48" y="84.93" font-size="8.5" font-weight="bold" textLength="3.92" lengthAdjust="spacingAndGlyphs" fill="#111">5</text>
<text x="331.48" y="65.33" font-size="8.5" font-weight="bold" textLength="3.92" lengthAdjust="spacingAndGlyphs" fill="#111">6</text>
<text x="366.5" y="136.56" font-size="8" font-weight="bold" text-anchor="middle" fill="#111">**</text>
<line x1="420" y1="122.6" x2="420" y2="119.5" stroke="#4a4a4a" stroke-width="1"/>
<line x1="419" y1="119.5" x2="421" y2="119.5" stroke="#4a4a4a" stroke-width="1"/>
<rect x="414.4" y="122.6" width="11.1" height="57.7" fill="#fff" stroke="#c0c0c0" stroke-width="1"/>
<line x1="430.7" y1="76.5" x2="430.7" y2="69.4" stroke="#555" stroke-width="1"/>
<line x1="429.7" y1="69.4" x2="431.7" y2="69.4" stroke="#555" stroke-width="1"/>
<rect x="425.5" y="76.5" width="10.5" height="103.8" fill="#000"/>
<line x1="406.2" y1="62.4" x2="406.2" y2="180.3" stroke="#444" stroke-width="1.4"/>
<line x1="405" y1="180.3" x2="438.6" y2="180.3" stroke="#111" stroke-width="1.5"/>
<line x1="404" y1="180.3" x2="406.2" y2="180.3" stroke="#111" stroke-width="1.1"/>
<line x1="404" y1="156.72" x2="406.2" y2="156.72" stroke="#111" stroke-width="1.1"/>
<line x1="404" y1="133.14" x2="406.2" y2="133.14" stroke="#111" stroke-width="1.1"/>
<line x1="404" y1="109.56" x2="406.2" y2="109.56" stroke="#111" stroke-width="1.1"/>
<line x1="404" y1="85.98" x2="406.2" y2="85.98" stroke="#111" stroke-width="1.1"/>
<line x1="404" y1="62.4" x2="406.2" y2="62.4" stroke="#111" stroke-width="1.1"/>
<text x="398.55" y="183.23" font-size="8.5" font-weight="bold" textLength="3.45" lengthAdjust="spacingAndGlyphs" fill="#111">0</text>
<text x="393.37" y="159.65" font-size="8.5" font-weight="bold" textLength="8.63" lengthAdjust="spacingAndGlyphs" fill="#111">0.1</text>
<text x="393.37" y="136.07" font-size="8.5" font-weight="bold" textLength="8.63" lengthAdjust="spacingAndGlyphs" fill="#111">0.2</text>
<text x="393.37" y="112.49" font-size="8.5" font-weight="bold" textLength="8.63" lengthAdjust="spacingAndGlyphs" fill="#111">0.3</text>
<text x="393.37" y="88.91" font-size="8.5" font-weight="bold" textLength="8.63" lengthAdjust="spacingAndGlyphs" fill="#111">0.4</text>
<text x="393.37" y="65.33" font-size="8.5" font-weight="bold" textLength="8.63" lengthAdjust="spacingAndGlyphs" fill="#111">0.5</text>
<text x="431" y="69.96" font-size="8" font-weight="bold" text-anchor="middle" fill="#111">**</text>
<line x1="498.5" y1="74.7" x2="498.5" y2="69.1" stroke="#4a4a4a" stroke-width="1"/>
<line x1="497.5" y1="69.1" x2="499.5" y2="69.1" stroke="#4a4a4a" stroke-width="1"/>
<rect x="491.3" y="74.7" width="14.4" height="104.5" fill="#fff" stroke="#c0c0c0" stroke-width="1"/>
<line x1="512.4" y1="85.8" x2="512.4" y2="75.2" stroke="#555" stroke-width="1"/>
<line x1="511.4" y1="75.2" x2="513.4" y2="75.2" stroke="#555" stroke-width="1"/>
<rect x="505.7" y="85.8" width="13.3" height="93.4" fill="#000"/>
<line x1="481.2" y1="60.4" x2="481.2" y2="179.2" stroke="#333" stroke-width="1.3"/>
<line x1="479.8" y1="179.2" x2="523.8" y2="179.2" stroke="#111" stroke-width="1.5"/>
<line x1="479" y1="179.2" x2="481.2" y2="179.2" stroke="#111" stroke-width="1.1"/>
<line x1="479" y1="155.44" x2="481.2" y2="155.44" stroke="#111" stroke-width="1.1"/>
<line x1="479" y1="131.68" x2="481.2" y2="131.68" stroke="#111" stroke-width="1.1"/>
<line x1="479" y1="107.92" x2="481.2" y2="107.92" stroke="#111" stroke-width="1.1"/>
<line x1="479" y1="84.16" x2="481.2" y2="84.16" stroke="#111" stroke-width="1.1"/>
<line x1="479" y1="60.4" x2="481.2" y2="60.4" stroke="#111" stroke-width="1.1"/>
<text x="471.38" y="182.13" font-size="8.5" font-weight="bold" textLength="4.02" lengthAdjust="spacingAndGlyphs" fill="#111">0</text>
<text x="471.38" y="158.37" font-size="8.5" font-weight="bold" textLength="4.02" lengthAdjust="spacingAndGlyphs" fill="#111">9</text>
<text x="467.36" y="134.61" font-size="8.5" font-weight="bold" textLength="8.04" lengthAdjust="spacingAndGlyphs" fill="#111">18</text>
<text x="467.36" y="110.85" font-size="8.5" font-weight="bold" textLength="8.04" lengthAdjust="spacingAndGlyphs" fill="#111">27</text>
<text x="467.36" y="87.09" font-size="8.5" font-weight="bold" textLength="8.04" lengthAdjust="spacingAndGlyphs" fill="#111">36</text>
<text x="467.36" y="63.33" font-size="8.5" font-weight="bold" textLength="8.04" lengthAdjust="spacingAndGlyphs" fill="#111">45</text>
<text x="512.4" y="75.38" font-size="9" font-weight="bold" text-anchor="middle" fill="#111">*</text>
<line x1="590" y1="91.4" x2="590" y2="88.2" stroke="#4a4a4a" stroke-width="1"/>
<line x1="589" y1="88.2" x2="591" y2="88.2" stroke="#4a4a4a" stroke-width="1"/>
<rect x="583.5" y="91.4" width="12.7" height="88.1" fill="#fff" stroke="#c0c0c0" stroke-width="1"/>
<line x1="602.7" y1="97.4" x2="602.7" y2="91.8" stroke="#555" stroke-width="1"/>
<line x1="601.7" y1="91.8" x2="603.7" y2="91.8" stroke="#555" stroke-width="1"/>
<rect x="596.2" y="97.4" width="12.6" height="82.1" fill="#000"/>
<line x1="573.5" y1="62.6" x2="573.5" y2="179.5" stroke="#7a7a7a" stroke-width="1.7"/>
<line x1="572.4" y1="179.5" x2="612.8" y2="179.5" stroke="#111" stroke-width="1.5"/>
<line x1="571.3" y1="179.5" x2="573.5" y2="179.5" stroke="#111" stroke-width="1.1"/>
<line x1="571.3" y1="156.12" x2="573.5" y2="156.12" stroke="#111" stroke-width="1.1"/>
<line x1="571.3" y1="132.74" x2="573.5" y2="132.74" stroke="#111" stroke-width="1.1"/>
<line x1="571.3" y1="109.36" x2="573.5" y2="109.36" stroke="#111" stroke-width="1.1"/>
<line x1="571.3" y1="85.98" x2="573.5" y2="85.98" stroke="#111" stroke-width="1.1"/>
<line x1="571.3" y1="62.6" x2="573.5" y2="62.6" stroke="#111" stroke-width="1.1"/>
<text x="559.06" y="182.26" font-size="8" font-weight="bold" textLength="9.34" lengthAdjust="spacingAndGlyphs" fill="#111">0.1</text>
<text x="555.32" y="158.88" font-size="8" font-weight="bold" textLength="13.08" lengthAdjust="spacingAndGlyphs" fill="#111">0.12</text>
<text x="555.32" y="135.5" font-size="8" font-weight="bold" textLength="13.08" lengthAdjust="spacingAndGlyphs" fill="#111">0.14</text>
<text x="555.32" y="112.12" font-size="8" font-weight="bold" textLength="13.08" lengthAdjust="spacingAndGlyphs" fill="#111">0.16</text>
<text x="555.32" y="88.74" font-size="8" font-weight="bold" textLength="13.08" lengthAdjust="spacingAndGlyphs" fill="#111">0.18</text>
<text x="559.06" y="65.36" font-size="8" font-weight="bold" textLength="9.34" lengthAdjust="spacingAndGlyphs" fill="#111">0.2</text>
<text x="602.7" y="92.58" font-size="9" font-weight="bold" text-anchor="middle" fill="#111">*</text>
<line x1="68.2" y1="290.2" x2="68.2" y2="282.1" stroke="#4a4a4a" stroke-width="1"/>
<line x1="67.2" y1="282.1" x2="69.2" y2="282.1" stroke="#4a4a4a" stroke-width="1"/>
<rect x="59.3" y="290.2" width="18.2" height="97.6" fill="#fff" stroke="#888" stroke-width="1.1"/>
<line x1="86.8" y1="335.5" x2="86.8" y2="332.1" stroke="#555" stroke-width="1"/>
<line x1="85.8" y1="332.1" x2="87.8" y2="332.1" stroke="#555" stroke-width="1"/>
<rect x="77.5" y="335.5" width="18.6" height="52.3" fill="#000"/>
<line x1="45.3" y1="273.1" x2="45.3" y2="387.8" stroke="#000" stroke-width="1.6"/>
<line x1="43.5" y1="387.8" x2="98.3" y2="387.8" stroke="#000" stroke-width="1.5"/>
<line x1="43.1" y1="387.8" x2="45.3" y2="387.8" stroke="#111" stroke-width="1.1"/>
<line x1="43.1" y1="371.41" x2="45.3" y2="371.41" stroke="#111" stroke-width="1.1"/>
<line x1="43.1" y1="355.03" x2="45.3" y2="355.03" stroke="#111" stroke-width="1.1"/>
<line x1="43.1" y1="338.64" x2="45.3" y2="338.64" stroke="#111" stroke-width="1.1"/>
<line x1="43.1" y1="322.26" x2="45.3" y2="322.26" stroke="#111" stroke-width="1.1"/>
<line x1="43.1" y1="305.87" x2="45.3" y2="305.87" stroke="#111" stroke-width="1.1"/>
<line x1="43.1" y1="289.49" x2="45.3" y2="289.49" stroke="#111" stroke-width="1.1"/>
<line x1="43.1" y1="273.1" x2="45.3" y2="273.1" stroke="#111" stroke-width="1.1"/>
<text x="34.46" y="389.87" font-size="6" font-weight="bold" textLength="3.84" lengthAdjust="spacingAndGlyphs" fill="#111">0</text>
<text x="34.46" y="373.48" font-size="6" font-weight="bold" textLength="3.84" lengthAdjust="spacingAndGlyphs" fill="#111">2</text>
<text x="34.46" y="357.1" font-size="6" font-weight="bold" textLength="3.84" lengthAdjust="spacingAndGlyphs" fill="#111">4</text>
<text x="34.46" y="340.71" font-size="6" font-weight="bold" textLength="3.84" lengthAdjust="spacingAndGlyphs" fill="#111">6</text>
<text x="34.46" y="324.33" font-size="6" font-weight="bold" textLength="3.84" lengthAdjust="spacingAndGlyphs" fill="#111">8</text>
<text x="30.63" y="307.94" font-size="6" font-weight="bold" textLength="7.67" lengthAdjust="spacingAndGlyphs" fill="#111">10</text>
<text x="30.63" y="291.56" font-size="6" font-weight="bold" textLength="7.67" lengthAdjust="spacingAndGlyphs" fill="#111">12</text>
<text x="30.63" y="275.17" font-size="6" font-weight="bold" textLength="7.67" lengthAdjust="spacingAndGlyphs" fill="#111">14</text>
<text x="87.2" y="333.38" font-size="9" font-weight="bold" text-anchor="middle" fill="#111">**</text>
<line x1="158.5" y1="291.3" x2="158.5" y2="285.4" stroke="#4a4a4a" stroke-width="1"/>
<line x1="157.5" y1="285.4" x2="159.5" y2="285.4" stroke="#4a4a4a" stroke-width="1"/>
<rect x="149.3" y="291.3" width="18" height="95.2" fill="#fff" stroke="#888" stroke-width="1.1"/>
<line x1="176" y1="327.3" x2="176" y2="323.5" stroke="#555" stroke-width="1"/>
<line x1="175" y1="323.5" x2="177" y2="323.5" stroke="#555" stroke-width="1"/>
<rect x="167.3" y="327.3" width="17.4" height="59.2" fill="#000"/>
<line x1="136" y1="273.1" x2="136" y2="386.5" stroke="#000" stroke-width="1.6"/>
<line x1="134.2" y1="386.5" x2="190.5" y2="386.5" stroke="#000" stroke-width="1.5"/>
<line x1="133.8" y1="386.5" x2="136" y2="386.5" stroke="#111" stroke-width="1.1"/>
<line x1="133.8" y1="363.82" x2="136" y2="363.82" stroke="#111" stroke-width="1.1"/>
<line x1="133.8" y1="341.14" x2="136" y2="341.14" stroke="#111" stroke-width="1.1"/>
<line x1="133.8" y1="318.46" x2="136" y2="318.46" stroke="#111" stroke-width="1.1"/>
<line x1="133.8" y1="295.78" x2="136" y2="295.78" stroke="#111" stroke-width="1.1"/>
<line x1="133.8" y1="273.1" x2="136" y2="273.1" stroke="#111" stroke-width="1.1"/>
<text x="125.46" y="388.57" font-size="6" font-weight="bold" textLength="3.84" lengthAdjust="spacingAndGlyphs" fill="#111">0</text>
<text x="125.46" y="365.89" font-size="6" font-weight="bold" textLength="3.84" lengthAdjust="spacingAndGlyphs" fill="#111">4</text>
<text x="125.46" y="343.21" font-size="6" font-weight="bold" textLength="3.84" lengthAdjust="spacingAndGlyphs" fill="#111">8</text>
<text x="121.63" y="320.53" font-size="6" font-weight="bold" textLength="7.67" lengthAdjust="spacingAndGlyphs" fill="#111">12</text>
<text x="121.63" y="297.85" font-size="6" font-weight="bold" textLength="7.67" lengthAdjust="spacingAndGlyphs" fill="#111">16</text>
<text x="121.63" y="275.17" font-size="6" font-weight="bold" textLength="7.67" lengthAdjust="spacingAndGlyphs" fill="#111">20</text>
<text x="176" y="324.78" font-size="9" font-weight="bold" text-anchor="middle" fill="#111">**</text>
<line x1="253.8" y1="285.6" x2="253.8" y2="282.1" stroke="#4a4a4a" stroke-width="1"/>
<line x1="252.8" y1="282.1" x2="254.8" y2="282.1" stroke="#4a4a4a" stroke-width="1"/>
<rect x="245.5" y="285.6" width="16.8" height="100.8" fill="#fff" stroke="#888" stroke-width="1.1"/>
<line x1="270.6" y1="338.3" x2="270.6" y2="336.2" stroke="#555" stroke-width="1"/>
<line x1="269.6" y1="336.2" x2="271.6" y2="336.2" stroke="#555" stroke-width="1"/>
<rect x="262.3" y="338.3" width="16.7" height="48.1" fill="#000"/>
<line x1="233" y1="276.8" x2="233" y2="386.4" stroke="#222" stroke-width="1.6"/>
<line x1="231.5" y1="386.4" x2="284.8" y2="386.4" stroke="#000" stroke-width="1.5"/>
<line x1="230.8" y1="386.4" x2="233" y2="386.4" stroke="#111" stroke-width="1.1"/>
<line x1="230.8" y1="364.48" x2="233" y2="364.48" stroke="#111" stroke-width="1.1"/>
<line x1="230.8" y1="342.56" x2="233" y2="342.56" stroke="#111" stroke-width="1.1"/>
<line x1="230.8" y1="320.64" x2="233" y2="320.64" stroke="#111" stroke-width="1.1"/>
<line x1="230.8" y1="298.72" x2="233" y2="298.72" stroke="#111" stroke-width="1.1"/>
<line x1="230.8" y1="276.8" x2="233" y2="276.8" stroke="#111" stroke-width="1.1"/>
<text x="222.75" y="388.64" font-size="6.5" font-weight="bold" textLength="4.05" lengthAdjust="spacingAndGlyphs" fill="#111">0</text>
<text x="216.68" y="366.72" font-size="6.5" font-weight="bold" textLength="10.12" lengthAdjust="spacingAndGlyphs" fill="#111">0.1</text>
<text x="216.68" y="344.8" font-size="6.5" font-weight="bold" textLength="10.12" lengthAdjust="spacingAndGlyphs" fill="#111">0.2</text>
<text x="216.68" y="322.88" font-size="6.5" font-weight="bold" textLength="10.12" lengthAdjust="spacingAndGlyphs" fill="#111">0.3</text>
<text x="216.68" y="300.96" font-size="6.5" font-weight="bold" textLength="10.12" lengthAdjust="spacingAndGlyphs" fill="#111">0.4</text>
<text x="216.68" y="279.04" font-size="6.5" font-weight="bold" textLength="10.12" lengthAdjust="spacingAndGlyphs" fill="#111">0.5</text>
<text x="270.8" y="337.38" font-size="9" font-weight="bold" text-anchor="middle" fill="#111">**</text>
<line x1="67.5" y1="476.3" x2="67.5" y2="469.3" stroke="#4a4a4a" stroke-width="1"/>
<line x1="66.5" y1="469.3" x2="68.5" y2="469.3" stroke="#4a4a4a" stroke-width="1"/>
<rect x="59.4" y="476.3" width="16.3" height="97.1" fill="#fff" stroke="#888" stroke-width="1.1"/>
<line x1="84.2" y1="501.2" x2="84.2" y2="498.9" stroke="#555" stroke-width="1"/>
<line x1="83.2" y1="498.9" x2="85.2" y2="498.9" stroke="#555" stroke-width="1"/>
<rect x="75.7" y="501.2" width="16.8" height="72.2" fill="#000"/>
<line x1="47" y1="459.5" x2="47" y2="573.4" stroke="#222" stroke-width="1.6"/>
<line x1="45.2" y1="573.4" x2="96.7" y2="573.4" stroke="#000" stroke-width="1.5"/>
<line x1="44.8" y1="573.4" x2="47" y2="573.4" stroke="#111" stroke-width="1.1"/>
<line x1="44.8" y1="554.42" x2="47" y2="554.42" stroke="#111" stroke-width="1.1"/>
<line x1="44.8" y1="535.43" x2="47" y2="535.43" stroke="#111" stroke-width="1.1"/>
<line x1="44.8" y1="516.45" x2="47" y2="516.45" stroke="#111" stroke-width="1.1"/>
<line x1="44.8" y1="497.47" x2="47" y2="497.47" stroke="#111" stroke-width="1.1"/>
<line x1="44.8" y1="478.48" x2="47" y2="478.48" stroke="#111" stroke-width="1.1"/>
<line x1="44.8" y1="459.5" x2="47" y2="459.5" stroke="#111" stroke-width="1.1"/>
<text x="37.51" y="575.4" font-size="5.8" font-weight="bold" textLength="3.39" lengthAdjust="spacingAndGlyphs" fill="#111">0</text>
<text x="37.51" y="556.42" font-size="5.8" font-weight="bold" textLength="3.39" lengthAdjust="spacingAndGlyphs" fill="#111">1</text>
<text x="37.51" y="537.43" font-size="5.8" font-weight="bold" textLength="3.39" lengthAdjust="spacingAndGlyphs" fill="#111">2</text>
<text x="37.51" y="518.45" font-size="5.8" font-weight="bold" textLength="3.39" lengthAdjust="spacingAndGlyphs" fill="#111">3</text>
<text x="37.51" y="499.47" font-size="5.8" font-weight="bold" textLength="3.39" lengthAdjust="spacingAndGlyphs" fill="#111">4</text>
<text x="37.51" y="480.48" font-size="5.8" font-weight="bold" textLength="3.39" lengthAdjust="spacingAndGlyphs" fill="#111">5</text>
<text x="37.51" y="461.5" font-size="5.8" font-weight="bold" textLength="3.39" lengthAdjust="spacingAndGlyphs" fill="#111">6</text>
<text x="84.2" y="500.5" font-size="10" font-weight="bold" text-anchor="middle" fill="#111">*</text>
<line x1="158.2" y1="490.5" x2="158.2" y2="486.5" stroke="#4a4a4a" stroke-width="1"/>
<line x1="157.2" y1="486.5" x2="159.2" y2="486.5" stroke="#4a4a4a" stroke-width="1"/>
<rect x="149.3" y="490.5" width="17.3" height="82.9" fill="#fff" stroke="#888" stroke-width="1.1"/>
<line x1="174.9" y1="501.5" x2="174.9" y2="499.3" stroke="#555" stroke-width="1"/>
<line x1="173.9" y1="499.3" x2="175.9" y2="499.3" stroke="#555" stroke-width="1"/>
<rect x="166.6" y="501.5" width="16.6" height="71.9" fill="#000"/>
<line x1="137.2" y1="463.5" x2="137.2" y2="573.4" stroke="#111" stroke-width="1.6"/>
<line x1="135.2" y1="573.4" x2="188" y2="573.4" stroke="#000" stroke-width="1.5"/>
<line x1="135" y1="573.4" x2="137.2" y2="573.4" stroke="#111" stroke-width="1.1"/>
<line x1="135" y1="551.42" x2="137.2" y2="551.42" stroke="#111" stroke-width="1.1"/>
<line x1="135" y1="529.44" x2="137.2" y2="529.44" stroke="#111" stroke-width="1.1"/>
<line x1="135" y1="507.46" x2="137.2" y2="507.46" stroke="#111" stroke-width="1.1"/>
<line x1="135" y1="485.48" x2="137.2" y2="485.48" stroke="#111" stroke-width="1.1"/>
<line x1="135" y1="463.5" x2="137.2" y2="463.5" stroke="#111" stroke-width="1.1"/>
<text x="127.35" y="575.57" font-size="6.3" font-weight="bold" textLength="3.85" lengthAdjust="spacingAndGlyphs" fill="#111">0</text>
<text x="127.35" y="553.59" font-size="6.3" font-weight="bold" textLength="3.85" lengthAdjust="spacingAndGlyphs" fill="#111">5</text>
<text x="123.49" y="531.61" font-size="6.3" font-weight="bold" textLength="7.71" lengthAdjust="spacingAndGlyphs" fill="#111">10</text>
<text x="123.49" y="509.63" font-size="6.3" font-weight="bold" textLength="7.71" lengthAdjust="spacingAndGlyphs" fill="#111">15</text>
<text x="123.49" y="487.65" font-size="6.3" font-weight="bold" textLength="7.71" lengthAdjust="spacingAndGlyphs" fill="#111">20</text>
<text x="123.49" y="465.67" font-size="6.3" font-weight="bold" textLength="7.71" lengthAdjust="spacingAndGlyphs" fill="#111">25</text>
<text x="174.9" y="500.5" font-size="10" font-weight="bold" text-anchor="middle" fill="#111">*</text>
<line x1="259.7" y1="489.7" x2="259.7" y2="484.1" stroke="#4a4a4a" stroke-width="1"/>
<line x1="258.7" y1="484.1" x2="260.7" y2="484.1" stroke="#4a4a4a" stroke-width="1"/>
<rect x="251" y="489.7" width="16.5" height="83.6" fill="#fff" stroke="#888" stroke-width="1.1"/>
<line x1="275.4" y1="506.1" x2="275.4" y2="503.2" stroke="#555" stroke-width="1"/>
<line x1="274.4" y1="503.2" x2="276.4" y2="503.2" stroke="#555" stroke-width="1"/>
<rect x="267.5" y="506.1" width="16.4" height="67.2" fill="#000"/>
<line x1="238.5" y1="465.4" x2="238.5" y2="573.3" stroke="#333" stroke-width="1.6"/>
<line x1="236.8" y1="573.3" x2="287.9" y2="573.3" stroke="#000" stroke-width="1.5"/>
<line x1="236.3" y1="573.3" x2="238.5" y2="573.3" stroke="#111" stroke-width="1.1"/>
<line x1="236.3" y1="546.32" x2="238.5" y2="546.32" stroke="#111" stroke-width="1.1"/>
<line x1="236.3" y1="519.35" x2="238.5" y2="519.35" stroke="#111" stroke-width="1.1"/>
<line x1="236.3" y1="492.38" x2="238.5" y2="492.38" stroke="#111" stroke-width="1.1"/>
<line x1="236.3" y1="465.4" x2="238.5" y2="465.4" stroke="#111" stroke-width="1.1"/>
<text x="229.01" y="575.44" font-size="6.2" font-weight="bold" textLength="3.69" lengthAdjust="spacingAndGlyphs" fill="#111">0</text>
<text x="223.48" y="548.46" font-size="6.2" font-weight="bold" textLength="9.22" lengthAdjust="spacingAndGlyphs" fill="#111">0.1</text>
<text x="223.48" y="521.49" font-size="6.2" font-weight="bold" textLength="9.22" lengthAdjust="spacingAndGlyphs" fill="#111">0.2</text>
<text x="223.48" y="494.51" font-size="6.2" font-weight="bold" textLength="9.22" lengthAdjust="spacingAndGlyphs" fill="#111">0.3</text>
<text x="223.48" y="467.54" font-size="6.2" font-weight="bold" textLength="9.22" lengthAdjust="spacingAndGlyphs" fill="#111">0.4</text>
<text x="275.4" y="504.6" font-size="10" font-weight="bold" text-anchor="middle" fill="#111">*</text>
<line x1="413.7" y1="268.5" x2="413.7" y2="261" stroke="#4a4a4a" stroke-width="1"/>
<line x1="412.7" y1="261" x2="414.7" y2="261" stroke="#4a4a4a" stroke-width="1"/>
<rect x="405.5" y="268.5" width="15.7" height="107.6" fill="#fff" stroke="#c4c4c4" stroke-width="1"/>
<line x1="428.7" y1="324.4" x2="428.7" y2="322.2" stroke="#555" stroke-width="1"/>
<line x1="427.7" y1="322.2" x2="429.7" y2="322.2" stroke="#555" stroke-width="1"/>
<rect x="421.2" y="324.4" width="15" height="51.7" fill="#000"/>
<line x1="466.5" y1="268.5" x2="466.5" y2="260.1" stroke="#4a4a4a" stroke-width="1"/>
<line x1="465.5" y1="260.1" x2="467.5" y2="260.1" stroke="#4a4a4a" stroke-width="1"/>
<rect x="458.3" y="268.5" width="15.7" height="107.6" fill="#fff" stroke="#c4c4c4" stroke-width="1"/>
<line x1="481.5" y1="339.3" x2="481.5" y2="336.5" stroke="#555" stroke-width="1"/>
<line x1="480.5" y1="336.5" x2="482.5" y2="336.5" stroke="#555" stroke-width="1"/>
<rect x="474" y="339.3" width="15.1" height="36.8" fill="#000"/>
<line x1="394.4" y1="247.4" x2="394.4" y2="376.1" stroke="#111" stroke-width="1.5"/>
<line x1="392.4" y1="376.1" x2="500.7" y2="376.1" stroke="#111" stroke-width="1.5"/>
<line x1="392.2" y1="376.1" x2="394.4" y2="376.1" stroke="#111" stroke-width="1.1"/>
<line x1="392.2" y1="354.65" x2="394.4" y2="354.65" stroke="#111" stroke-width="1.1"/>
<line x1="392.2" y1="333.2" x2="394.4" y2="333.2" stroke="#111" stroke-width="1.1"/>
<line x1="392.2" y1="311.75" x2="394.4" y2="311.75" stroke="#111" stroke-width="1.1"/>
<line x1="392.2" y1="290.3" x2="394.4" y2="290.3" stroke="#111" stroke-width="1.1"/>
<line x1="392.2" y1="268.85" x2="394.4" y2="268.85" stroke="#111" stroke-width="1.1"/>
<line x1="392.2" y1="247.4" x2="394.4" y2="247.4" stroke="#111" stroke-width="1.1"/>
<text x="383.44" y="378.93" font-size="8.2" font-weight="bold" textLength="4.56" lengthAdjust="spacingAndGlyphs" fill="#111">0</text>
<text x="378.88" y="357.48" font-size="8.2" font-weight="bold" textLength="9.12" lengthAdjust="spacingAndGlyphs" fill="#111">20</text>
<text x="378.88" y="336.03" font-size="8.2" font-weight="bold" textLength="9.12" lengthAdjust="spacingAndGlyphs" fill="#111">40</text>
<text x="378.88" y="314.58" font-size="8.2" font-weight="bold" textLength="9.12" lengthAdjust="spacingAndGlyphs" fill="#111">60</text>
<text x="378.88" y="293.13" font-size="8.2" font-weight="bold" textLength="9.12" lengthAdjust="spacingAndGlyphs" fill="#111">80</text>
<text x="374.32" y="271.68" font-size="8.2" font-weight="bold" textLength="13.68" lengthAdjust="spacingAndGlyphs" fill="#111">100</text>
<text x="374.32" y="250.23" font-size="8.2" font-weight="bold" textLength="13.68" lengthAdjust="spacingAndGlyphs" fill="#111">120</text>
<text x="429.7" y="322.57" font-size="8.5" font-weight="bold" text-anchor="middle" fill="#111">**</text>
<text x="481.7" y="336.97" font-size="8.5" font-weight="bold" text-anchor="middle" fill="#111">**</text>
<line x1="540" y1="269.9" x2="540" y2="262.9" stroke="#4a4a4a" stroke-width="1"/>
<line x1="539" y1="262.9" x2="541" y2="262.9" stroke="#4a4a4a" stroke-width="1"/>
<rect x="531.9" y="269.9" width="14.5" height="106.4" fill="#fff" stroke="#c4c4c4" stroke-width="1"/>
<line x1="553.7" y1="300.8" x2="553.7" y2="298.3" stroke="#555" stroke-width="1"/>
<line x1="552.7" y1="298.3" x2="554.7" y2="298.3" stroke="#555" stroke-width="1"/>
<rect x="546.4" y="300.8" width="14.5" height="75.5" fill="#000"/>
<line x1="589.7" y1="269.9" x2="589.7" y2="265.2" stroke="#4a4a4a" stroke-width="1"/>
<line x1="588.7" y1="265.2" x2="590.7" y2="265.2" stroke="#4a4a4a" stroke-width="1"/>
<rect x="582.3" y="269.9" width="14.6" height="106.4" fill="#fff" stroke="#c4c4c4" stroke-width="1"/>
<line x1="604" y1="293.1" x2="604" y2="289.4" stroke="#555" stroke-width="1"/>
<line x1="603" y1="289.4" x2="605" y2="289.4" stroke="#555" stroke-width="1"/>
<rect x="596.9" y="293.1" width="14.3" height="83.2" fill="#000"/>
<line x1="521" y1="248.4" x2="521" y2="376.3" stroke="#111" stroke-width="1.5"/>
<line x1="519.4" y1="376.3" x2="622.1" y2="376.3" stroke="#111" stroke-width="1.5"/>
<line x1="518.8" y1="376.3" x2="521" y2="376.3" stroke="#111" stroke-width="1.1"/>
<line x1="518.8" y1="354.98" x2="521" y2="354.98" stroke="#111" stroke-width="1.1"/>
<line x1="518.8" y1="333.67" x2="521" y2="333.67" stroke="#111" stroke-width="1.1"/>
<line x1="518.8" y1="312.35" x2="521" y2="312.35" stroke="#111" stroke-width="1.1"/>
<line x1="518.8" y1="291.03" x2="521" y2="291.03" stroke="#111" stroke-width="1.1"/>
<line x1="518.8" y1="269.72" x2="521" y2="269.72" stroke="#111" stroke-width="1.1"/>
<line x1="518.8" y1="248.4" x2="521" y2="248.4" stroke="#111" stroke-width="1.1"/>
<text x="510.44" y="379.13" font-size="8.2" font-weight="bold" textLength="4.56" lengthAdjust="spacingAndGlyphs" fill="#111">0</text>
<text x="505.88" y="357.81" font-size="8.2" font-weight="bold" textLength="9.12" lengthAdjust="spacingAndGlyphs" fill="#111">20</text>
<text x="505.88" y="336.5" font-size="8.2" font-weight="bold" textLength="9.12" lengthAdjust="spacingAndGlyphs" fill="#111">40</text>
<text x="505.88" y="315.18" font-size="8.2" font-weight="bold" textLength="9.12" lengthAdjust="spacingAndGlyphs" fill="#111">60</text>
<text x="505.88" y="293.86" font-size="8.2" font-weight="bold" textLength="9.12" lengthAdjust="spacingAndGlyphs" fill="#111">80</text>
<text x="501.32" y="272.55" font-size="8.2" font-weight="bold" textLength="13.68" lengthAdjust="spacingAndGlyphs" fill="#111">100</text>
<text x="501.32" y="251.23" font-size="8.2" font-weight="bold" textLength="13.68" lengthAdjust="spacingAndGlyphs" fill="#111">120</text>
<text x="553.7" y="299.37" font-size="8.5" font-weight="bold" text-anchor="middle" fill="#111">*</text>
<text x="604" y="291.07" font-size="8.5" font-weight="bold" text-anchor="middle" fill="#111">*</text>
<line x1="406.4" y1="482.5" x2="406.4" y2="474.3" stroke="#4a4a4a" stroke-width="1"/>
<line x1="405.4" y1="474.3" x2="407.4" y2="474.3" stroke="#4a4a4a" stroke-width="1"/>
<rect x="400.5" y="482.5" width="11.7" height="76" fill="#fff" stroke="#c4c4c4" stroke-width="1"/>
<line x1="418.3" y1="470.7" x2="418.3" y2="464.3" stroke="#555" stroke-width="1"/>
<line x1="417.3" y1="464.3" x2="419.3" y2="464.3" stroke="#555" stroke-width="1"/>
<rect x="412.2" y="470.7" width="11.5" height="87.8" fill="#000"/>
<line x1="392.2" y1="450.7" x2="392.2" y2="558.5" stroke="#555" stroke-width="1.5"/>
<line x1="391.3" y1="558.5" x2="427.2" y2="558.5" stroke="#111" stroke-width="1.5"/>
<line x1="390" y1="558.5" x2="392.2" y2="558.5" stroke="#111" stroke-width="1.1"/>
<line x1="390" y1="522.57" x2="392.2" y2="522.57" stroke="#111" stroke-width="1.1"/>
<line x1="390" y1="486.63" x2="392.2" y2="486.63" stroke="#111" stroke-width="1.1"/>
<line x1="390" y1="450.7" x2="392.2" y2="450.7" stroke="#111" stroke-width="1.1"/>
<text x="383.99" y="560.85" font-size="6.8" font-weight="bold" textLength="3.21" lengthAdjust="spacingAndGlyphs" fill="#333">0</text>
<text x="380.77" y="524.91" font-size="6.8" font-weight="bold" textLength="6.43" lengthAdjust="spacingAndGlyphs" fill="#333">20</text>
<text x="380.77" y="488.98" font-size="6.8" font-weight="bold" textLength="6.43" lengthAdjust="spacingAndGlyphs" fill="#333">40</text>
<text x="380.77" y="453.05" font-size="6.8" font-weight="bold" textLength="6.43" lengthAdjust="spacingAndGlyphs" fill="#333">60</text>
<line x1="475.5" y1="483.3" x2="475.5" y2="481.5" stroke="#4a4a4a" stroke-width="1"/>
<line x1="474.5" y1="481.5" x2="476.5" y2="481.5" stroke="#4a4a4a" stroke-width="1"/>
<rect x="470.4" y="483.3" width="10.2" height="75.1" fill="#fff" stroke="#c4c4c4" stroke-width="1"/>
<line x1="485.9" y1="469.1" x2="485.9" y2="464.3" stroke="#555" stroke-width="1"/>
<line x1="484.9" y1="464.3" x2="486.9" y2="464.3" stroke="#555" stroke-width="1"/>
<rect x="480.6" y="469.1" width="10.4" height="89.3" fill="#000"/>
<line x1="462" y1="449.1" x2="462" y2="558.4" stroke="#666" stroke-width="1.8"/>
<line x1="461.4" y1="558.4" x2="496.4" y2="558.4" stroke="#111" stroke-width="1.5"/>
<line x1="459.8" y1="558.4" x2="462" y2="558.4" stroke="#111" stroke-width="1.1"/>
<line x1="459.8" y1="531.08" x2="462" y2="531.08" stroke="#111" stroke-width="1.1"/>
<line x1="459.8" y1="503.75" x2="462" y2="503.75" stroke="#111" stroke-width="1.1"/>
<line x1="459.8" y1="476.43" x2="462" y2="476.43" stroke="#111" stroke-width="1.1"/>
<line x1="459.8" y1="449.1" x2="462" y2="449.1" stroke="#111" stroke-width="1.1"/>
<text x="455.35" y="560.75" font-size="6.8" font-weight="bold" textLength="2.65" lengthAdjust="spacingAndGlyphs" fill="#444">0</text>
<text x="455.35" y="533.42" font-size="6.8" font-weight="bold" textLength="2.65" lengthAdjust="spacingAndGlyphs" fill="#444">4</text>
<text x="455.35" y="506.1" font-size="6.8" font-weight="bold" textLength="2.65" lengthAdjust="spacingAndGlyphs" fill="#444">8</text>
<text x="452.71" y="478.77" font-size="6.8" font-weight="bold" textLength="5.29" lengthAdjust="spacingAndGlyphs" fill="#444">12</text>
<text x="452.71" y="451.45" font-size="6.8" font-weight="bold" textLength="5.29" lengthAdjust="spacingAndGlyphs" fill="#444">16</text>
<line x1="542.1" y1="485.9" x2="542.1" y2="481.5" stroke="#4a4a4a" stroke-width="1"/>
<line x1="541.1" y1="481.5" x2="543.1" y2="481.5" stroke="#4a4a4a" stroke-width="1"/>
<rect x="536.6" y="485.9" width="10.4" height="72.4" fill="#fff" stroke="#c4c4c4" stroke-width="1"/>
<line x1="552.5" y1="475.2" x2="552.5" y2="464.3" stroke="#555" stroke-width="1"/>
<line x1="551.5" y1="464.3" x2="553.5" y2="464.3" stroke="#555" stroke-width="1"/>
<rect x="547" y="475.2" width="11" height="83.1" fill="#000"/>
<line x1="529" y1="451.8" x2="529" y2="558.3" stroke="#777" stroke-width="1.5"/>
<line x1="527.6" y1="558.3" x2="561" y2="558.3" stroke="#111" stroke-width="1.5"/>
<line x1="526.8" y1="558.3" x2="529" y2="558.3" stroke="#111" stroke-width="1.1"/>
<line x1="526.8" y1="505.05" x2="529" y2="505.05" stroke="#111" stroke-width="1.1"/>
<line x1="526.8" y1="451.8" x2="529" y2="451.8" stroke="#111" stroke-width="1.1"/>
<text x="521.81" y="560.54" font-size="6.5" font-weight="bold" textLength="2.89" lengthAdjust="spacingAndGlyphs" fill="#333">0</text>
<text x="521.81" y="507.29" font-size="6.5" font-weight="bold" textLength="2.89" lengthAdjust="spacingAndGlyphs" fill="#333">5</text>
<text x="518.92" y="454.04" font-size="6.5" font-weight="bold" textLength="5.78" lengthAdjust="spacingAndGlyphs" fill="#333">10</text>
<line x1="604.9" y1="484.6" x2="604.9" y2="477.4" stroke="#4a4a4a" stroke-width="1"/>
<line x1="603.9" y1="477.4" x2="605.9" y2="477.4" stroke="#4a4a4a" stroke-width="1"/>
<rect x="599.5" y="484.6" width="10.4" height="74.2" fill="#fff" stroke="#c4c4c4" stroke-width="1"/>
<line x1="614.9" y1="480" x2="614.9" y2="469.1" stroke="#555" stroke-width="1"/>
<line x1="613.9" y1="469.1" x2="615.9" y2="469.1" stroke="#555" stroke-width="1"/>
<rect x="609.9" y="480" width="9.9" height="78.8" fill="#000"/>
<line x1="592.3" y1="455.5" x2="592.3" y2="558.8" stroke="#555" stroke-width="1.5"/>
<line x1="591.4" y1="558.8" x2="622.1" y2="558.8" stroke="#111" stroke-width="1.5"/>
<line x1="590.1" y1="558.8" x2="592.3" y2="558.8" stroke="#111" stroke-width="1.1"/>
<line x1="590.1" y1="532.97" x2="592.3" y2="532.97" stroke="#111" stroke-width="1.1"/>
<line x1="590.1" y1="507.15" x2="592.3" y2="507.15" stroke="#111" stroke-width="1.1"/>
<line x1="590.1" y1="481.32" x2="592.3" y2="481.32" stroke="#111" stroke-width="1.1"/>
<line x1="590.1" y1="455.5" x2="592.3" y2="455.5" stroke="#111" stroke-width="1.1"/>
<text x="585.39" y="561.04" font-size="6.5" font-weight="bold" textLength="2.71" lengthAdjust="spacingAndGlyphs" fill="#333">0</text>
<text x="585.39" y="535.22" font-size="6.5" font-weight="bold" textLength="2.71" lengthAdjust="spacingAndGlyphs" fill="#333">2</text>
<text x="585.39" y="509.39" font-size="6.5" font-weight="bold" textLength="2.71" lengthAdjust="spacingAndGlyphs" fill="#333">4</text>
<text x="585.39" y="483.57" font-size="6.5" font-weight="bold" textLength="2.71" lengthAdjust="spacingAndGlyphs" fill="#333">6</text>
<text x="585.39" y="457.74" font-size="6.5" font-weight="bold" textLength="2.71" lengthAdjust="spacingAndGlyphs" fill="#333">8</text>
<g transform="translate(174.93,112.4) rotate(-90) scale(0.8463,1)">
<text x="-4.88" y="0" font-size="11" font-weight="bold" fill="#000">%</text>
</g>
<g transform="translate(251.23,110.8) rotate(-90) scale(1.0466,1)">
<text x="-9.8" y="0" font-size="11" font-weight="bold" fill="#000">mm</text>
</g>
<g transform="translate(325.5,112) rotate(-90) scale(1.0051,1)">
<text x="-13.07" y="0" font-size="10" font-weight="bold" fill="#000">1/mm</text>
</g>
<g transform="translate(391.23,109) rotate(-90) scale(1.0246,1)">
<text x="-9.8" y="0" font-size="11" font-weight="bold" fill="#000">mm</text>
</g>
<g transform="translate(463.63,110.3) rotate(-90) scale(0.8897,1)">
<text x="-4.88" y="0" font-size="11" font-weight="bold" fill="#000">%</text>
</g>
<g transform="translate(553.93,109.6) rotate(-90) scale(1.0135,1)">
<text x="-9.8" y="0" font-size="11" font-weight="bold" fill="#000">mm</text>
</g>
<g transform="translate(23.6,320.1) rotate(-90) scale(0.9194,1)">
<text x="-17.71" y="0" font-size="10" font-weight="bold" fill="#000">10/mm</text>
<text x="13.98" y="-3.8" font-size="6" font-weight="bold" fill="#000">2</text>
</g>
<g transform="translate(114.1,313.3) rotate(-90) scale(0.8712,1)">
<text x="-4.44" y="0" font-size="10" font-weight="bold" fill="#000">%</text>
</g>
<g transform="translate(209.5,318.6) rotate(-90) scale(0.9561,1)">
<text x="-23.82" y="0" font-size="10" font-weight="bold" fill="#000">µm</text>
<text x="-9.17" y="-3.8" font-size="6" font-weight="bold" fill="#000">3</text>
<text x="-5.83" y="0" font-size="10" font-weight="bold" fill="#000">/µm</text>
<text x="11.6" y="-3.8" font-size="6" font-weight="bold" fill="#000">2</text>
<text x="14.94" y="0" font-size="10" font-weight="bold" fill="#000">/d</text>
</g>
<g transform="translate(23.1,505.1) rotate(-90) scale(0.9194,1)">
<text x="-17.71" y="0" font-size="10" font-weight="bold" fill="#000">10/mm</text>
<text x="13.98" y="-3.8" font-size="6" font-weight="bold" fill="#000">2</text>
</g>
<g transform="translate(116.5,497.3) rotate(-90) scale(0.9309,1)">
<text x="-4.44" y="0" font-size="10" font-weight="bold" fill="#000">%</text>
</g>
<g transform="translate(213.7,503.5) rotate(-90) scale(0.9928,1)">
<text x="-23.82" y="0" font-size="10" font-weight="bold" fill="#000">µm</text>
<text x="-9.17" y="-3.8" font-size="6" font-weight="bold" fill="#000">3</text>
<text x="-5.83" y="0" font-size="10" font-weight="bold" fill="#000">/µm</text>
<text x="11.6" y="-3.8" font-size="6" font-weight="bold" fill="#000">2</text>
<text x="14.94" y="0" font-size="10" font-weight="bold" fill="#000">/d</text>
</g>
<g transform="translate(355.06,300.7) rotate(-90) scale(0.8956,1)">
<text x="-45.24" y="0" font-size="10.5" font-weight="bold" fill="#000">mRNA expression</text>
</g>
<g transform="translate(368.26,299.8) rotate(-90) scale(0.9158,1)">
<text x="-33.83" y="0" font-size="10.5" font-weight="bold" fill="#000">(% of control)</text>
</g>
<g transform="translate(372.87,502.7) rotate(-90) scale(0.9716,1)">
<text x="-13.43" y="0" font-size="9" font-weight="bold" fill="#000">1/mm</text>
<text x="10.08" y="-3.42" font-size="5.4" font-weight="bold" fill="#000">2</text>
</g>
<g transform="translate(448.97,505) rotate(-90) scale(0.9283,1)">
<text x="-3.99" y="0" font-size="9" font-weight="bold" fill="#000">%</text>
</g>
<g transform="translate(516.57,503.2) rotate(-90) scale(0.9716,1)">
<text x="-13.43" y="0" font-size="9" font-weight="bold" fill="#000">1/mm</text>
<text x="10.08" y="-3.42" font-size="5.4" font-weight="bold" fill="#000">2</text>
</g>
<g transform="translate(580.17,507.2) rotate(-90) scale(0.9283,1)">
<text x="-3.99" y="0" font-size="9" font-weight="bold" fill="#000">%</text>
</g>
<text transform="translate(125.5,234.9) scale(0.9657,1)" x="-0.13" y="0" font-size="11.8" font-weight="bold" fill="#000">Trabecular Bone</text>
<text transform="translate(48.7,258.2) scale(1.1138,1)" x="-0.63" y="0" font-size="9.4" font-weight="bold" fill="#000">N.Ob/T.Ar</text>
<text transform="translate(139.2,258.4) scale(1.0610,1)" x="-0.39" y="0" font-size="9.4" font-weight="bold" fill="#000">Ob.S/BS</text>
<text transform="translate(234.3,258.2) scale(0.9973,1)" x="-0.63" y="0" font-size="9.4" font-weight="bold" fill="#000">BFR/BS</text>
<text transform="translate(104,415.3) scale(0.9949,1)" x="-0.78" y="0" font-size="11.6" font-weight="bold" fill="#000">Endocortical surface</text>
<line x1="83.5" y1="421.3" x2="237.5" y2="421.3" stroke="#222" stroke-width="1.1"/>
<text transform="translate(49.7,440) scale(1.1510,1)" x="-0.63" y="0" font-size="9.4" font-weight="bold" fill="#000">N.Ob/T.Ar</text>
<text transform="translate(142.5,440.2) scale(1.0990,1)" x="-0.39" y="0" font-size="9.4" font-weight="bold" fill="#000">Ob.S/BS</text>
<text transform="translate(240.3,440.3) scale(1.0296,1)" x="-0.63" y="0" font-size="9.4" font-weight="bold" fill="#000">BFR/BS</text>
<text transform="translate(399.6,234.9) scale(0.9800,1)" x="-0.11" y="0" font-size="10.2" font-weight="bold" fill="#000">Trabecular  Bone</text>
<text transform="translate(530.7,235.4) scale(0.9857,1)" x="-0.42" y="0" font-size="10.2" font-weight="bold" fill="#000">Cortical  Bone</text>
<text transform="translate(414.9,393.3) scale(0.8727,1)" x="-0.24" y="0" font-size="9.8" font-weight="bold" fill="#000">ALP</text>
<text transform="translate(463.9,393.3) scale(0.8957,1)" x="-0.4" y="0" font-size="9.8" font-weight="bold" fill="#000">OSX</text>
<text transform="translate(539.1,393.3) scale(0.8517,1)" x="-0.24" y="0" font-size="9.8" font-weight="bold" fill="#000">ALP</text>
<text transform="translate(588,393.3) scale(0.8957,1)" x="-0.4" y="0" font-size="9.8" font-weight="bold" fill="#000">OSX</text>
<text transform="translate(400.4,434.6) scale(0.9675,1)" x="-0.12" y="0" font-size="11" font-weight="bold" fill="#000">Trabecular Bone</text>
<text transform="translate(522.8,434.2) scale(0.9768,1)" x="-0.74" y="0" font-size="11" font-weight="bold" fill="#000">Endocortical surface</text>
<text transform="translate(404.9,458.2) scale(1.0737,1)" x="-0.6" y="0" font-size="9" font-weight="bold" fill="#000">NS</text>
<line x1="399.1" y1="460.6" x2="424" y2="460.6" stroke="#111" stroke-width="1.6"/>
<text transform="translate(474.9,457.8) scale(1.0564,1)" x="-0.6" y="0" font-size="9" font-weight="bold" fill="#000">NS</text>
<line x1="469.7" y1="460" x2="491.6" y2="460" stroke="#111" stroke-width="1.6"/>
<text transform="translate(540.3,458.8) scale(1.0737,1)" x="-0.6" y="0" font-size="9" font-weight="bold" fill="#000">NS</text>
<line x1="535.2" y1="460.6" x2="558.3" y2="460.6" stroke="#111" stroke-width="1.6"/>
<text transform="translate(603.7,463.3) scale(1.0997,1)" x="-0.6" y="0" font-size="9" font-weight="bold" fill="#000">NS</text>
<line x1="598.4" y1="465.7" x2="621" y2="465.7" stroke="#111" stroke-width="1.6"/>
<text transform="translate(392,572.7) scale(1.0030,1)" x="-0.62" y="0" font-size="9.2" font-weight="bold" fill="#000">N.Oc/T.Ar</text>
<text transform="translate(461.4,572.2) scale(0.9560,1)" x="-0.38" y="0" font-size="9.2" font-weight="bold" fill="#000">Oc.S/BS</text>
<text transform="translate(524.4,572.6) scale(1.0054,1)" x="-0.62" y="0" font-size="9.2" font-weight="bold" fill="#000">N.Oc/T.Ar</text>
<text transform="translate(588.7,572.4) scale(0.9588,1)" x="-0.38" y="0" font-size="9.2" font-weight="bold" fill="#000">Oc.S/BS</text>
</svg>
</body></html>
